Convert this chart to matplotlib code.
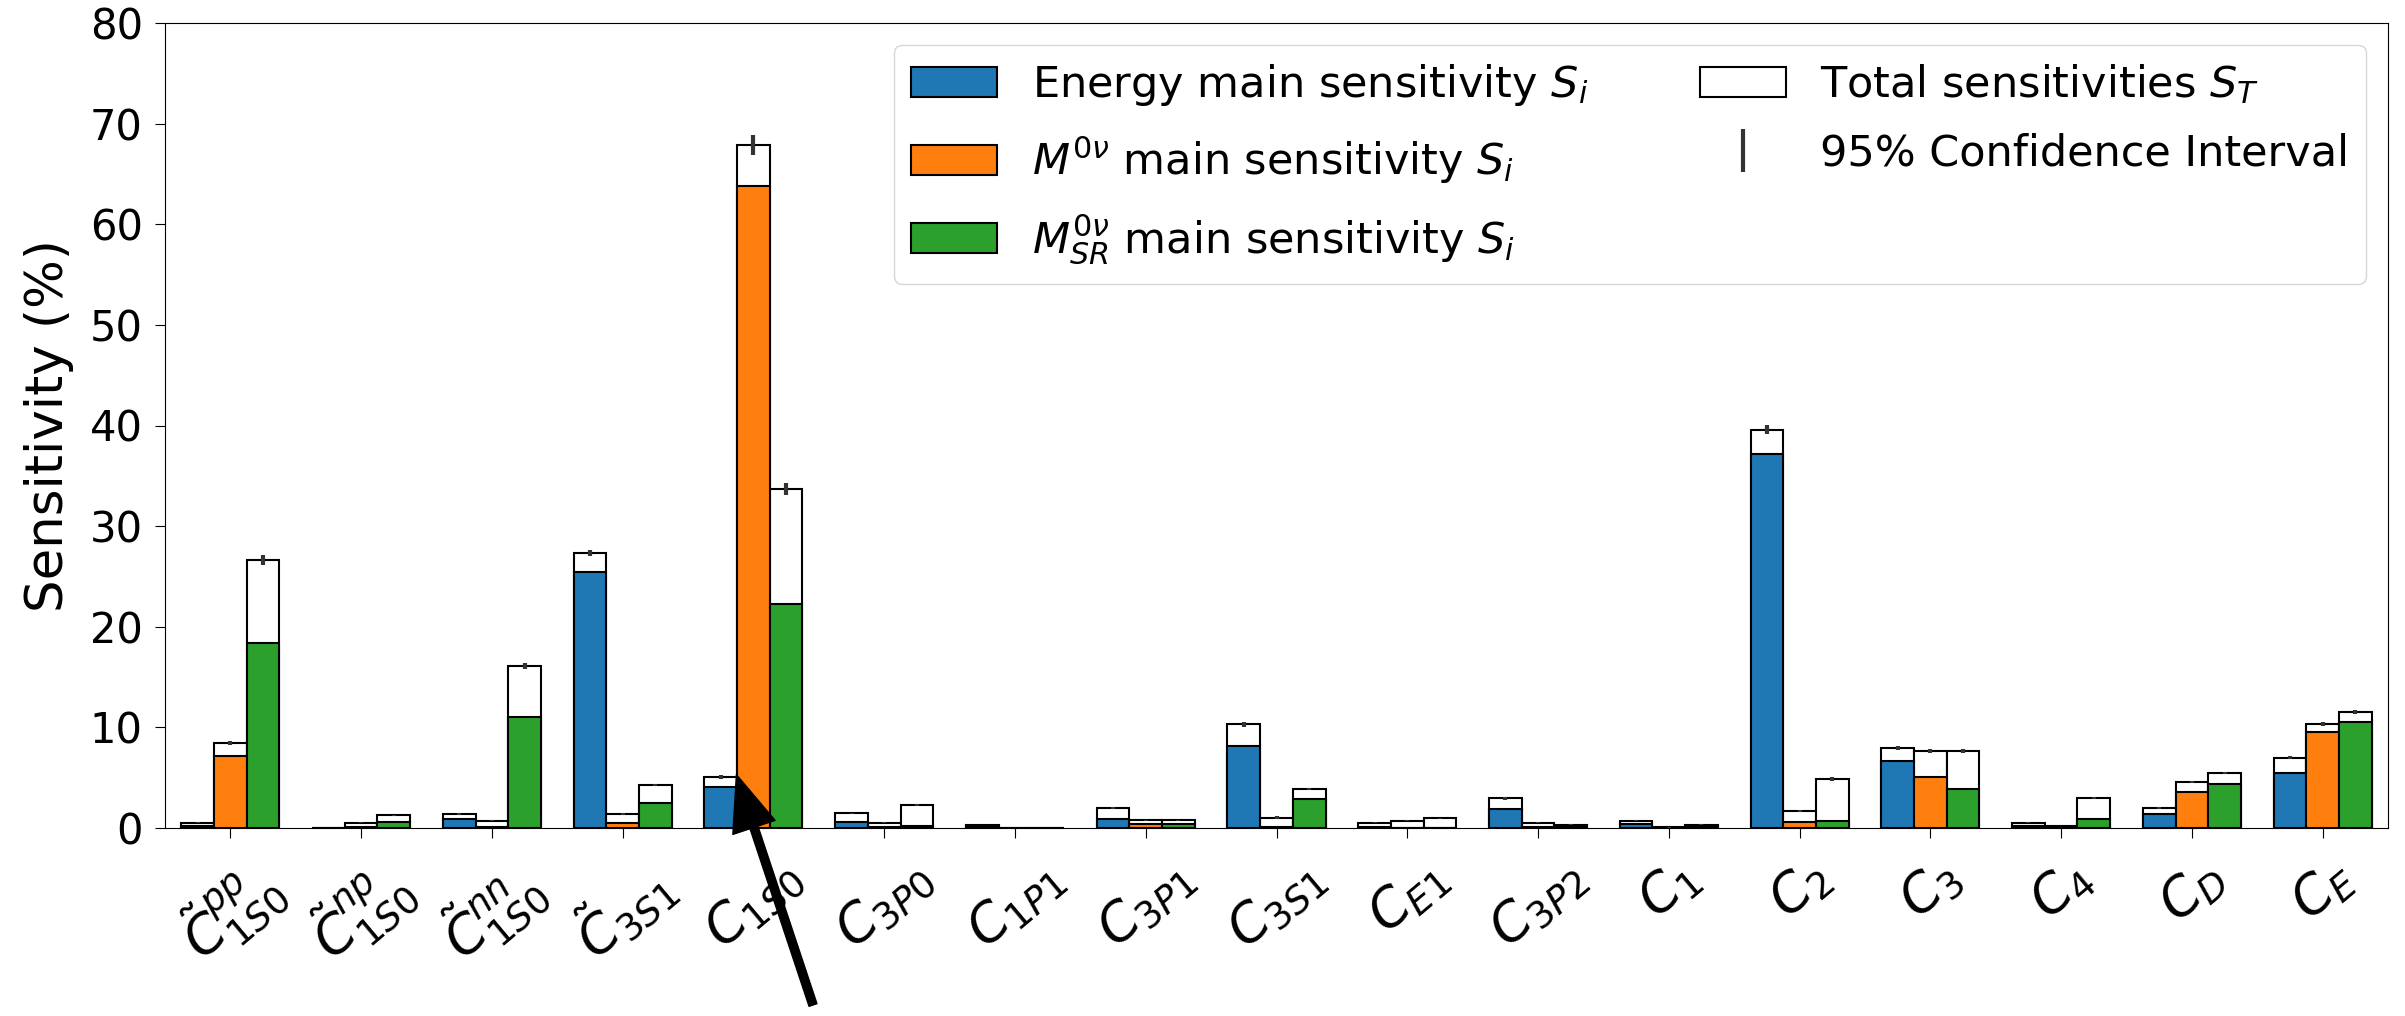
import numpy as np
import matplotlib
matplotlib.use('Agg')
import matplotlib.pyplot as plt

# sensitivity values (%)
labels = [r'$\tilde{C}^{pp}_{1S0}$', r'$\tilde{C}^{np}_{1S0}$', r'$\tilde{C}^{nn}_{1S0}$',
          r'$\tilde{C}_{3S1}$', r'$C_{1S0}$', r'$C_{3P0}$', r'$C_{1P1}$', r'$C_{3P1}$',
          r'$C_{3S1}$', r'$C_{E1}$', r'$C_{3P2}$', r'$C_1$', r'$C_2$', r'$C_3$',
          r'$C_4$', r'$C_D$', r'$C_E$']

energy_si = [0.2, 0.0, 0.9, 25.4, 4.05, 0.63, 0.15, 0.9, 8.15, 0.05, 1.9, 0.4, 37.2, 6.66, 0.2, 1.4, 5.5]
energy_st = [0.5, 0.0, 1.4, 27.3, 5.1, 1.46, 0.3, 2.0, 10.3, 0.5, 2.95, 0.7, 39.6, 7.92, 0.5, 1.95, 7.0]
energy_ci = [0.05, 0.0, 0.1, 0.3, 0.2, 0.05, 0.02, 0.1, 0.25, 0.05, 0.15, 0.05, 0.45, 0.2, 0.05, 0.1, 0.15]

m0v_si = [7.16, 0.1, 0.1, 0.5, 63.8, 0.05, 0.0, 0.4, 0.1, 0.0, 0.05, 0.0, 0.6, 5.04, 0.05, 3.55, 9.5]
m0v_st = [8.4, 0.5, 0.7, 1.4, 67.9, 0.5, 0.0, 0.75, 1.0, 0.73, 0.5, 0.05, 1.72, 7.68, 0.2, 4.6, 10.3]
m0v_ci = [0.2, 0.05, 0.05, 0.1, 1.0, 0.05, 0.0, 0.05, 0.15, 0.05, 0.05, 0.05, 0.1, 0.2, 0.02, 0.1, 0.2]

msr_si = [18.4, 0.6, 11.0, 2.45, 22.3, 0.15, 0.0, 0.4, 2.88, 0.0, 0.1, 0.1, 0.7, 3.85, 0.9, 4.34, 10.5]
msr_st = [26.6, 1.26, 16.1, 4.3, 33.7, 2.29, 0.0, 0.75, 3.88, 0.96, 0.3, 0.3, 4.84, 7.68, 2.95, 5.5, 11.56]
msr_ci = [0.5, 0.05, 0.3, 0.1, 0.6, 0.1, 0.0, 0.05, 0.1, 0.05, 0.05, 0.05, 0.2, 0.2, 0.1, 0.1, 0.2]

series = [
    ('Energy main sensitivity $S_i$', '#1f77b4', energy_si, energy_st, energy_ci),
    (r'$M^{0\nu}$ main sensitivity $S_i$', '#ff7f0e', m0v_si, m0v_st, m0v_ci),
    (r'$M^{0\nu}_{SR}$ main sensitivity $S_i$', '#2ca02c', msr_si, msr_st, msr_ci),
]

x = np.arange(len(labels))
width = 0.25

fig = plt.figure(figsize=(24.05, 10.16), dpi=100)
ax = fig.add_axes([165 / 2405, 1 - 828 / 1016, (2388 - 165) / 2405, (828 - 23) / 1016])

handles = []
for i, (name, color, si, st, ci) in enumerate(series):
    pos = x + (i - 1) * width
    tot = ax.bar(pos, st, width, color='white', edgecolor='black', linewidth=1.5,
                 label='Total sensitivities $S_T$', zorder=2)
    main = ax.bar(pos, si, width, color=color, edgecolor='black', linewidth=1.5,
                  label=name, zorder=3)
    err = ax.errorbar(pos, st, yerr=ci, fmt='none', ecolor='#333333', elinewidth=3,
                      capsize=0, label='95% Confidence Interval', zorder=4)
    handles.append(main)
handles += [tot, err]

ax.set_xlim(-0.5, 16.5)
ax.set_ylim(0, 80)
ax.set_xticks(x)
ax.set_xticklabels(labels, rotation=40, fontsize=38)
ax.tick_params(axis='y', labelsize=30, length=7, pad=9)
ax.tick_params(axis='x', length=7, pad=9)
ax.set_ylabel('Sensitivity (%)', fontsize=37, labelpad=11)

ax.legend(handles=handles,
          labels=[h.get_label() for h in handles],
          ncol=2, fontsize=31, loc='upper right',
          columnspacing=2.6, labelspacing=0.62)

ax.annotate('', xy=(3.87, 5.3), xycoords='data',
            xytext=(813 / 2405, 1 - 1005 / 1016), textcoords='figure fraction',
            arrowprops=dict(facecolor='black', edgecolor='black', width=6,
                            headwidth=32, headlength=40), annotation_clip=False)

fig.savefig('out.png', dpi=100)
